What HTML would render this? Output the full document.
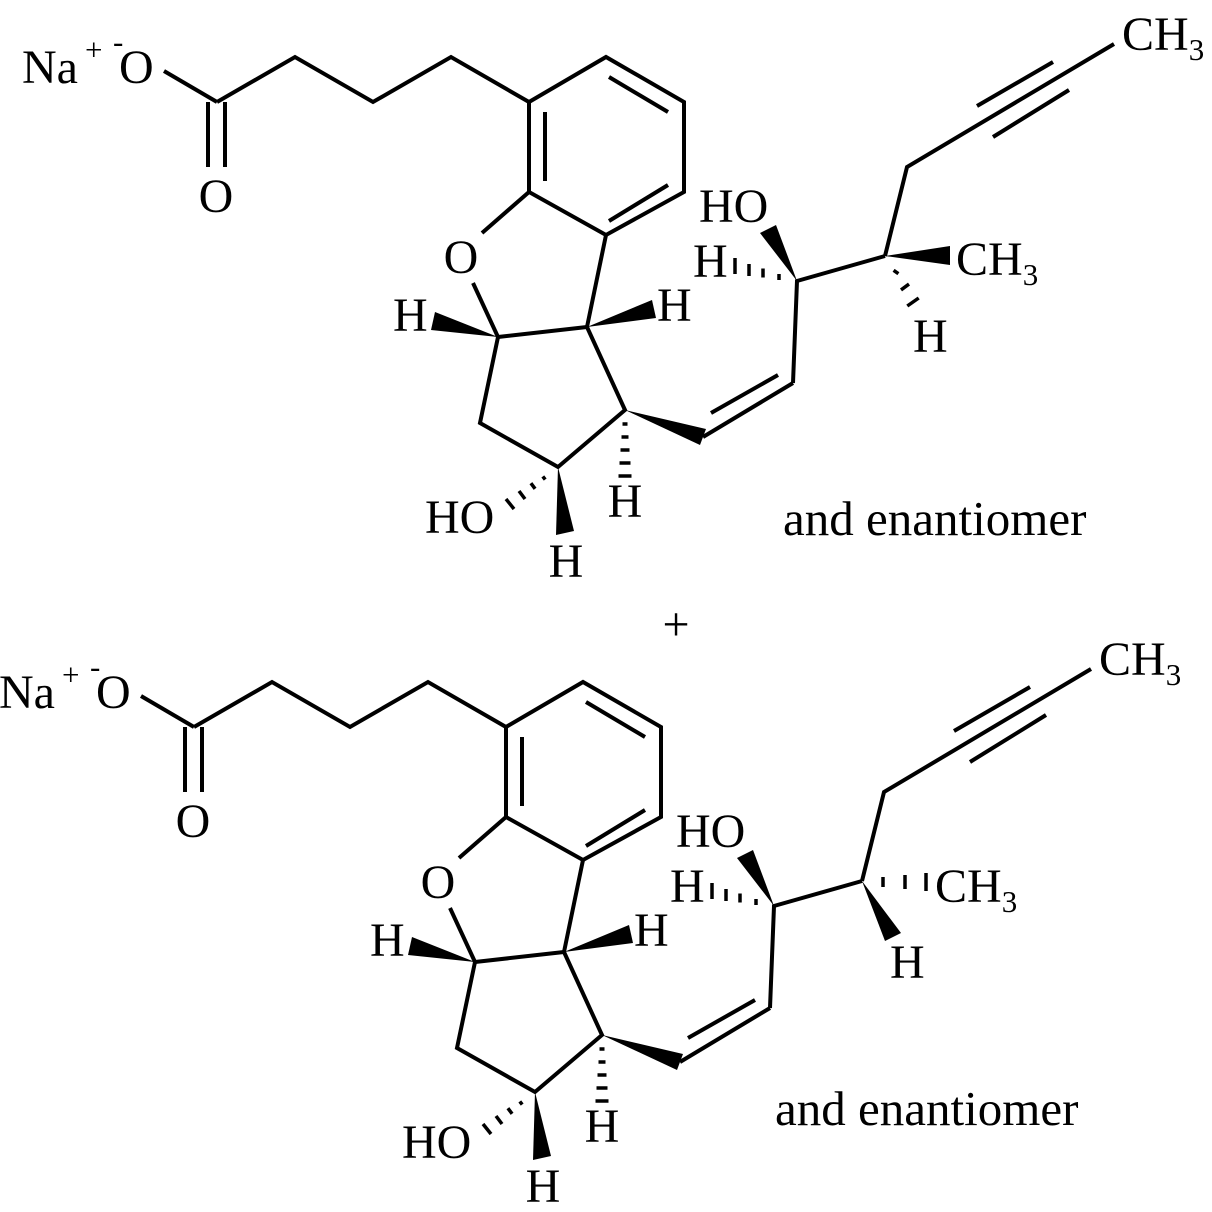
<!DOCTYPE html>
<html><head><meta charset="utf-8"><style>
html,body{margin:0;padding:0;background:#fff;}
svg{display:block;}
text{font-family:"Liberation Serif",serif;font-size:48px;fill:#000;}
.s{font-size:31px;}
.e{font-size:49px;}
</style></head><body>
<svg width="1212" height="1212" viewBox="0 0 1212 1212" xmlns="http://www.w3.org/2000/svg">
<g id="top">
<g fill="none" stroke="#000" stroke-width="4" stroke-linejoin="miter">
<line x1="164" y1="71" x2="217" y2="102"/>
<line x1="208" y1="102" x2="208" y2="167"/><line x1="225" y1="102" x2="225" y2="167"/>
<polyline points="217,102 295,57 373,102 451,57 529,102"/>
<polygon points="529,102 606,57 684,102 684,192 606,235 529,192"/>
<line x1="545" y1="112" x2="545" y2="181"/><line x1="609" y1="77" x2="668" y2="112"/><line x1="668" y1="185" x2="609" y2="221"/>
<line x1="529" y1="192" x2="482" y2="233"/>
<line x1="473" y1="283" x2="498" y2="337"/>
<line x1="498" y1="337" x2="587" y2="327"/>
<line x1="587" y1="327" x2="606" y2="235"/>
<polyline points="498,337 480,423 558,467 625,410 587,327"/>
<line x1="703" y1="437" x2="793" y2="383"/><line x1="711" y1="413" x2="778" y2="375"/>
<polyline points="793,383 797,281 885,256"/>
<polyline points="885,256 907,167 1114,44"/>
<line x1="977" y1="106" x2="1053" y2="62"/><line x1="993" y1="137" x2="1069" y2="90"/>
</g>
<g fill="#000">
<polygon points="498,337 435,312 431,330"/>
<polygon points="587,327 656,318 652,300"/>
<polygon points="558,467 556,535 574,531"/>
<polygon points="625,410 700,445 706,429"/>
<polygon points="797,281 776,225 760,233"/>
</g>
<g stroke="#000" stroke-width="3.5">
<line x1="545.2" y1="479.6" x2="542.8" y2="476.4"/><line x1="535.1" y1="488.8" x2="530.9" y2="483.2"/>
<line x1="525" y1="499" x2="519" y2="491"/><line x1="514" y1="509" x2="506" y2="499"/>
<line x1="622.5" y1="424" x2="627.5" y2="424"/><line x1="621.5" y1="437" x2="628.5" y2="437"/>
<line x1="620.5" y1="450" x2="629.5" y2="450"/><line x1="619.5" y1="463" x2="630.5" y2="463"/>
<line x1="618.5" y1="476" x2="631.5" y2="476"/>
<line x1="735" y1="258" x2="735" y2="274"/><line x1="749" y1="264" x2="749" y2="276"/>
<line x1="763" y1="268.5" x2="763" y2="277.5"/><line x1="779" y1="274" x2="779" y2="280"/>
</g>
<text x="22" y="83">Na</text><text x="85" y="60" class="s">+</text><text x="113" y="52" class="s">-</text><text x="119" y="83">O</text>
<text x="216" y="212" text-anchor="middle">O</text>
<text x="461" y="273" text-anchor="middle">O</text>
<text x="393" y="331">H</text>
<text x="657" y="321">H</text>
<text x="425" y="533">HO</text>
<text x="566" y="577" text-anchor="middle">H</text>
<text x="625" y="517" text-anchor="middle">H</text>
<text x="699" y="222">HO</text>
<text x="693" y="277">H</text>
<text x="1122" y="50">CH<tspan class="s" dy="10">3</tspan></text>
</g>
<g>
<polygon points="885,256 950,246 950,265" fill="#000"/>
<g stroke="#000" stroke-width="3.5">
<line x1="893.6" y1="270.3" x2="898.4" y2="273.7"/><line x1="901" y1="289.9" x2="909" y2="284.1"/>
<line x1="907.3" y1="306" x2="918.7" y2="298"/>
</g>
<text x="956" y="275">CH<tspan class="s" dy="10">3</tspan></text>
<text x="913" y="352">H</text>
<text x="783" y="535" class="e">and enantiomer</text>
</g>
<text x="676" y="640" text-anchor="middle">+</text>
<g transform="translate(-23,625)">
<g fill="none" stroke="#000" stroke-width="4">
<line x1="164" y1="71" x2="217" y2="102"/>
<line x1="208" y1="102" x2="208" y2="167"/><line x1="225" y1="102" x2="225" y2="167"/>
<polyline points="217,102 295,57 373,102 451,57 529,102"/>
<polygon points="529,102 606,57 684,102 684,192 606,235 529,192"/>
<line x1="545" y1="112" x2="545" y2="181"/><line x1="609" y1="77" x2="668" y2="112"/><line x1="668" y1="185" x2="609" y2="221"/>
<line x1="529" y1="192" x2="482" y2="233"/>
<line x1="473" y1="283" x2="498" y2="337"/>
<line x1="498" y1="337" x2="587" y2="327"/>
<line x1="587" y1="327" x2="606" y2="235"/>
<polyline points="498,337 480,423 558,467 625,410 587,327"/>
<line x1="703" y1="437" x2="793" y2="383"/><line x1="711" y1="413" x2="778" y2="375"/>
<polyline points="793,383 797,281 885,256"/>
<polyline points="885,256 907,167 1114,44"/>
<line x1="977" y1="106" x2="1053" y2="62"/><line x1="993" y1="137" x2="1069" y2="90"/>
</g>
<g fill="#000">
<polygon points="498,337 435,312 431,330"/>
<polygon points="587,327 656,318 652,300"/>
<polygon points="558,467 556,535 574,531"/>
<polygon points="625,410 700,445 706,429"/>
<polygon points="797,281 776,225 760,233"/>
<polygon points="885,256 924,308 908,316"/>
</g>
<g stroke="#000" stroke-width="3.5">
<line x1="545.2" y1="479.6" x2="542.8" y2="476.4"/><line x1="535.1" y1="488.8" x2="530.9" y2="483.2"/>
<line x1="525" y1="499" x2="519" y2="491"/><line x1="514" y1="509" x2="506" y2="499"/>
<line x1="622.5" y1="424" x2="627.5" y2="424"/><line x1="621.5" y1="437" x2="628.5" y2="437"/>
<line x1="620.5" y1="450" x2="629.5" y2="450"/><line x1="619.5" y1="463" x2="630.5" y2="463"/>
<line x1="618.5" y1="476" x2="631.5" y2="476"/>
<line x1="735" y1="258" x2="735" y2="274"/><line x1="749" y1="264" x2="749" y2="276"/>
<line x1="763" y1="268.5" x2="763" y2="277.5"/><line x1="779" y1="274" x2="779" y2="280"/>
<line x1="906" y1="252" x2="906" y2="262"/><line x1="928" y1="250" x2="928" y2="264"/>
<line x1="949" y1="248" x2="949" y2="266"/>
</g>
<text x="22" y="83">Na</text><text x="85" y="60" class="s">+</text><text x="113" y="52" class="s">-</text><text x="119" y="83">O</text>
<text x="216" y="212" text-anchor="middle">O</text>
<text x="461" y="273" text-anchor="middle">O</text>
<text x="393" y="331">H</text>
<text x="657" y="321">H</text>
<text x="425" y="533">HO</text>
<text x="566" y="577" text-anchor="middle">H</text>
<text x="625" y="517" text-anchor="middle">H</text>
<text x="699" y="222">HO</text>
<text x="693" y="277">H</text>
<text x="1122" y="50">CH<tspan class="s" dy="10">3</tspan></text>
<text x="958" y="277">CH<tspan class="s" dy="10">3</tspan></text>
<text x="913" y="353">H</text>
<text x="798" y="500" class="e">and enantiomer</text>
</g>
</svg>
</body></html>
